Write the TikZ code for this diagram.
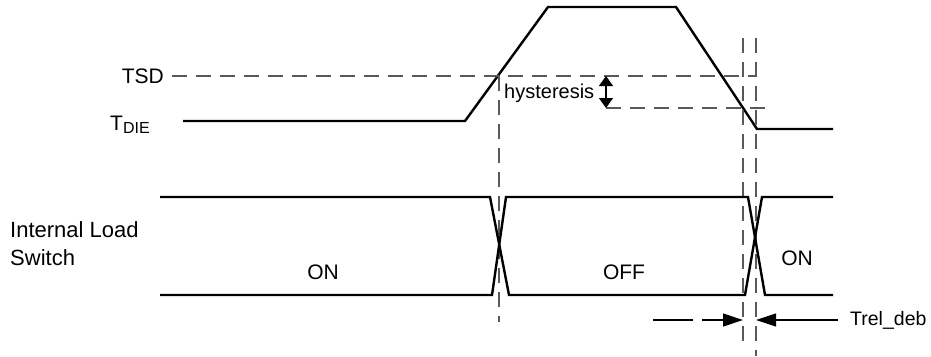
\documentclass[tikz,border=0pt]{standalone}
\usepackage{fontspec}
\setmainfont{Liberation Sans}
\usetikzlibrary{arrows.meta}
\begin{document}
\begin{tikzpicture}[x=1pt,y=-1pt,
  sig/.style={line width=2.4pt,line join=miter},
  guide/.style={line width=1.2pt,draw=black!65,dash pattern=on 15pt off 9pt},
  lbl/.style={inner sep=0pt,font=\fontsize{21}{28}\selectfont},
  tip/.style={-{Triangle[length=20pt,width=13pt]}},
]
\useasboundingbox (0,0) rectangle (931,356);
% temperature trace
\coordinate (t0) at (183,121);
\coordinate (t1) at (465,121);
\coordinate (t2) at (548,7);
\coordinate (t3) at (676,7);
\coordinate (t4) at (757,129);
\coordinate (t5) at (833,129);
\draw[sig] (t0) -- (t1) -- (t2) -- (t3) -- (t4) -- (t5);
% guides
\coordinate (tsdA) at (172,76);
\coordinate (tsdB) at (757,76);
\draw[guide] (tsdA) -- (tsdB);
\coordinate (hysA) at (606,108);
\coordinate (hysB) at (772,108);
\draw[guide] (hysA) -- (hysB);
\coordinate (v1a) at (499,76);
\coordinate (v1b) at (499,322);
\draw[guide] (v1a) -- (v1b);
\coordinate (v2a) at (743,38);
\coordinate (v2b) at (743,342);
\draw[guide] (v2a) -- (v2b);
\coordinate (v3a) at (756,38);
\coordinate (v3b) at (756,356);
\draw[guide] (v3a) -- (v3b);
% hysteresis arrow
\coordinate (hy1) at (606,76);
\coordinate (hy2) at (606,108);
\draw[line width=1.4pt,{Triangle[length=10pt,width=14pt]}-{Triangle[length=10pt,width=14pt]}] (hy1) -- (hy2);
\node[lbl,anchor=west,font=\fontsize{20}{24}\selectfont] (hys) at (504,93) {hysteresis};
% labels
\node[lbl,anchor=east] (tsd) at (164,76) {TSD};
\node[lbl,anchor=base west] (tdie) at (110,130) {T\raisebox{-0.35ex}{\fontsize{16}{16}\selectfont DIE}};
\node[lbl,anchor=base west,align=left,font=\fontsize{22}{28}\selectfont] (ils) at (10,265) {Internal Load\\Switch};
% switch signal
\draw[sig] (160,197) -- (490,197) -- (509,295) -- (745,295) -- (762,197) -- (833,197);
\draw[sig] (160,295) -- (492,295) -- (506,197) -- (748,197) -- (765,295) -- (833,295);
\node[lbl] (on1) at (323,272) {ON};
\node[lbl] (off) at (624,272) {OFF};
\node[lbl] (on2) at (797,258) {ON};
% debounce
\coordinate (dA) at (653,320);
\coordinate (dB) at (743,320);
\coordinate (dC) at (838,320);
\coordinate (dD) at (756,320);
\draw[line width=1.2pt,dash pattern=on 40pt off 9pt,tip] (dA) -- (dB);
\draw[line width=1.2pt,tip] (dC) -- (dD);
\node[lbl,anchor=west,font=\fontsize{19.5}{24}\selectfont] (trel) at (850,320) {Trel\_deb};
\end{tikzpicture}
\end{document}
